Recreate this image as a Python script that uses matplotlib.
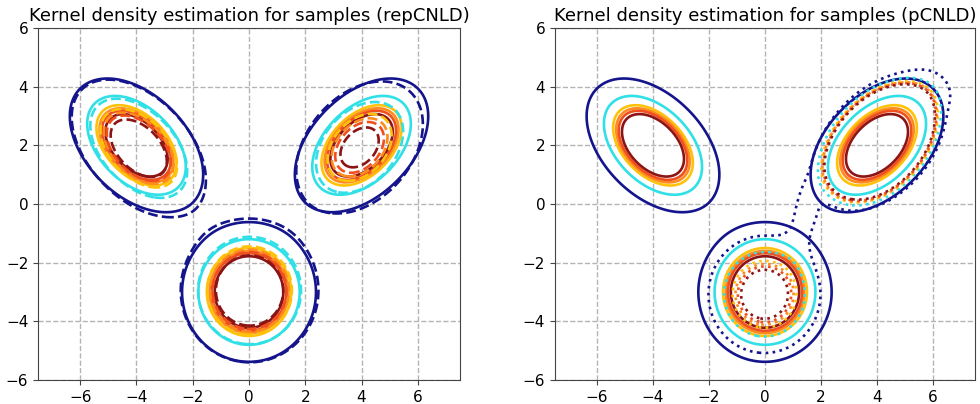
import numpy as np
import matplotlib
matplotlib.use("Agg")
import matplotlib.pyplot as plt

# density levels of the contour lines and their colours
levels = [0.00375, 0.0126, 0.0207, 0.0239, 0.0266, 0.0303]
level_colors = ['#14148c', '#30e0e6', '#ffc20a', '#ff8a1e', '#f0501e', '#8c1414']

# target density: three gaussian modes
target_weights = [0.31, 0.31, 0.40]
target_means = [(-4.0, 2.0), (4.0, 2.0), (0.0, -3.0)]
target_covs = [[[1.05, -0.44], [-0.44, 0.97]],
               [[1.05, 0.44], [0.44, 0.97]],
               [[1.0, 0.0], [0.0, 1.0]]]

# repCNLD samples, KDE
rep_weights = [0.291, 0.242, 0.40]
rep_means = [(-3.92, 1.9), (3.93, 1.93), (0.02, -2.95)]
rep_covs = [[[1.12, -0.5], [-0.5, 1.08]],
            [[1.1, 0.385], [0.385, 1.1]],
            [[1.09, 0.0], [0.0, 1.09]]]

# pCNLD samples, KDE (left mode is missed)
pc_weights = [0.233, 0.0199, 0.018]          # lower mode, bridge, upper-right bulge
pc_means = [(-0.02, -3.08), (1.55, 0.0), (5.8, 3.85)]
pc_covs = [[[0.79, 0.0], [0.0, 0.79]],
           [[0.277, 0.379], [0.379, 1.589]],
           [[0.42, -0.04], [-0.04, 0.32]]]
pc_plateau_amp = 0.0909
pc_plateau_mean = (4.1, 2.1)
pc_plateau_cov = [[1.0, 0.4], [0.4, 1.0]]
pc_plateau_scale = 2.923
pc_plateau_power = 3

xs = np.linspace(-7.5, 7.5, 500)
ys = np.linspace(-6, 6, 400)
X, Y = np.meshgrid(xs, ys)


def mahal(mean, cov):
    inv = np.linalg.inv(np.array(cov))
    dx, dy = X - mean[0], Y - mean[1]
    return inv[0, 0] * dx * dx + 2 * inv[0, 1] * dx * dy + inv[1, 1] * dy * dy


def mixture(weights, means, covs):
    Z = np.zeros_like(X)
    for w, m, c in zip(weights, means, covs):
        det = np.linalg.det(np.array(c))
        Z += w / (2 * np.pi * np.sqrt(det)) * np.exp(-0.5 * mahal(m, c))
    return Z


Z_target = mixture(target_weights, target_means, target_covs)
Z_rep = mixture(rep_weights, rep_means, rep_covs)
Z_pc = mixture(pc_weights, pc_means, pc_covs)
Z_pc += pc_plateau_amp * np.exp(-0.5 * (mahal(pc_plateau_mean, pc_plateau_cov)
                                        / pc_plateau_scale) ** pc_plateau_power)

fig = plt.figure(figsize=(9.8, 4.04), dpi=100)
ax1 = fig.add_axes([0.0388, 0.0594, 0.4306, 0.8713])
ax2 = fig.add_axes([0.5663, 0.0594, 0.4286, 0.8713])

panels = [(ax1, Z_rep, 'dashed', 'Kernel density estimation for samples (repCNLD)'),
          (ax2, Z_pc, 'dotted', 'Kernel density estimation for samples (pCNLD)')]

for ax, Z, ls, title in panels:
    ax.set_axisbelow(True)
    ax.grid(True, linestyle='--', color='#b4b4b4', linewidth=1)
    ax.contour(X, Y, Z_target, levels=levels, colors=level_colors, linewidths=1.9)
    ax.contour(X, Y, Z, levels=levels, colors=level_colors, linewidths=1.9,
               linestyles=ls)
    ax.set_xlim(-7.5, 7.5)
    ax.set_ylim(-6, 6)
    ax.set_xticks([-6, -4, -2, 0, 2, 4, 6])
    ax.set_yticks([-6, -4, -2, 0, 2, 4, 6])
    ax.tick_params(labelsize=11, color='#444444')
    for s in ax.spines.values():
        s.set_color('#444444')
    ax.set_title(title, fontsize=13, pad=5)

fig.savefig('out.png', dpi=100)
